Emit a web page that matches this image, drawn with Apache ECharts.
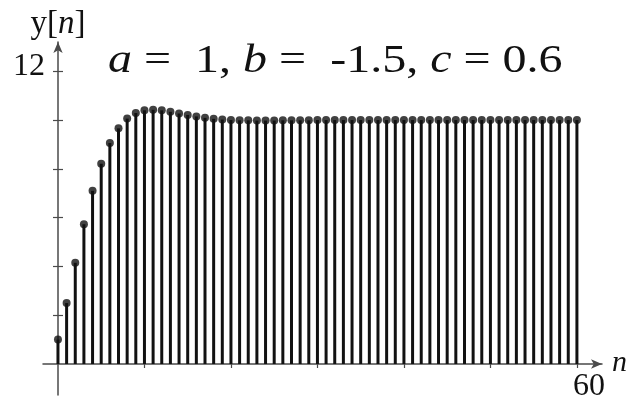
<!DOCTYPE html>
<html>
<head>
<meta charset="utf-8">
<style>
  html, body { margin: 0; padding: 0; background: #fff; }
  #chart { width: 626px; height: 407px; }
</style>
<script src="https://cdn.jsdelivr.net/npm/echarts@6/dist/echarts.min.js"></script>
</head>
<body>
<div id="chart"></div>
<script>
// Step response of y[n] = a + 1.5*y[n-1] - 0.6*y[n-2], n = 0..60
const nValues = Array.from({ length: 61 }, (_, i) => i);
const yValues = [
  1.00, 2.50, 4.15, 5.73, 7.10, 8.21, 9.06, 9.66, 10.06, 10.29,
  10.40, 10.42, 10.40, 10.34, 10.27, 10.21, 10.15, 10.09, 10.05, 10.02,
  10.00, 9.99, 9.99, 9.98, 9.98, 9.98, 9.99, 9.99, 9.99, 9.99,
  10.00, 10.00, 10.00, 10.00, 10.00, 10.00, 10.00, 10.00, 10.00, 10.00,
  10.00, 10.00, 10.00, 10.00, 10.00, 10.00, 10.00, 10.00, 10.00, 10.00,
  10.00, 10.00, 10.00, 10.00, 10.00, 10.00, 10.00, 10.00, 10.00, 10.00,
  10.00
];
const xTickValues = [10, 20, 30, 40, 50, 60];
const xLabelValues = [60];
const yTickValues = [2, 4, 6, 8, 10, 12];
const yLabelValues = [12];
const titleParts = { a: '1', b: '-1.5', c: '0.6' };

const serif = '"Liberation Serif", "Times New Roman", serif';
const ink = '#111';
const axisColor = '#4a4a4a';
const points = nValues.map((n, i) => [n, yValues[i]]);

const chart = echarts.init(document.getElementById('chart'), null, { renderer: 'canvas' });

// Axis ranges reach a little past the data so the axis lines cross and overshoot
const xMin = -1.73, xMax = 62.9;
const yMin = -1.27, yMax = 13.2;

const yAxisBase = {
  type: 'value',
  min: yMin,
  max: yMax,
  position: 'left',
  offset: -15,
  splitLine: { show: false }
};

const titleText =
  '{i|a}{r| =  ' + titleParts.a + ', }' +
  '{i|b}{r| =  ' + titleParts.b + ', }' +
  '{i|c}{r| = ' + titleParts.c + '}';

chart.setOption({
  animation: false,
  backgroundColor: '#fff',
  graphic: [{
    type: 'text',
    x: 108,
    y: 41,
    scaleX: 1.2,
    style: {
      text: titleText,
      font: 'normal 40px ' + serif,
      fill: ink,
      verticalAlign: 'top',
      rich: {
        i: { font: 'italic 40px ' + serif, fill: ink },
        r: { font: 'normal 40px ' + serif, fill: ink }
      }
    }
  }],
  grid: { left: 43, right: 24, top: 42, bottom: 12, containLabel: false, outerBoundsMode: 'none' },
  xAxis: {
    type: 'value',
    min: xMin,
    max: xMax,
    position: 'bottom',
    offset: -31,
    splitLine: { show: false },
    axisLine: {
      onZero: false,
      lineStyle: { color: axisColor, width: 1.5 },
      symbol: ['none', 'arrow'],
      symbolSize: [7, 11]
    },
    axisTick: {
      customValues: xTickValues,
      length: 4,
      lineStyle: { color: axisColor, width: 1.2 }
    },
    axisLabel: {
      customValues: xLabelValues,
      fontFamily: serif,
      fontSize: 32,
      color: ink,
      margin: 7,
      padding: [0, 0, 0, 24]
    },
    name: '{i|n}',
    nameLocation: 'end',
    nameGap: 10,
    nameTextStyle: {
      rich: { i: { fontFamily: serif, fontStyle: 'italic', fontSize: 30, color: ink, padding: [0, 0, 2, 0] } }
    }
  },
  yAxis: [
    Object.assign({}, yAxisBase, {
      axisLine: {
        onZero: false,
        lineStyle: { color: axisColor, width: 1.5 },
        symbol: ['none', 'arrow'],
        symbolSize: [7, 11]
      },
      axisTick: {
        customValues: yTickValues,
        length: 5,
        lineStyle: { color: axisColor, width: 1.2 }
      },
      axisLabel: {
        customValues: yLabelValues,
        fontFamily: serif,
        fontSize: 32,
        color: ink,
        margin: 13,
        verticalAlign: 'bottom',
        lineHeight: 10
      },
      name: '{r|y[}{i|n}{r|]}',
      nameLocation: 'end',
      nameGap: 1,
      nameTextStyle: {
        align: 'center',
        rich: {
          r: { fontFamily: serif, fontSize: 33, color: ink },
          i: { fontFamily: serif, fontStyle: 'italic', fontSize: 33, color: ink }
        }
      }
    }),
    // the same ticks again, on the inner side of the vertical axis
    Object.assign({}, yAxisBase, {
      axisLine: { show: false, onZero: false },
      axisTick: {
        inside: true,
        customValues: yTickValues,
        length: 5,
        lineStyle: { color: axisColor, width: 1.2 }
      },
      axisLabel: { show: false }
    })
  ],
  series: [
    {
      type: 'bar',
      data: points,
      barWidth: 3,
      itemStyle: { color: ink },
      silent: true,
      z: 3
    },
    {
      type: 'scatter',
      data: points,
      symbol: 'circle',
      symbolSize: 8,
      itemStyle: { color: ink },
      silent: true,
      z: 4
    }
  ]
});
</script>
</body>
</html>
